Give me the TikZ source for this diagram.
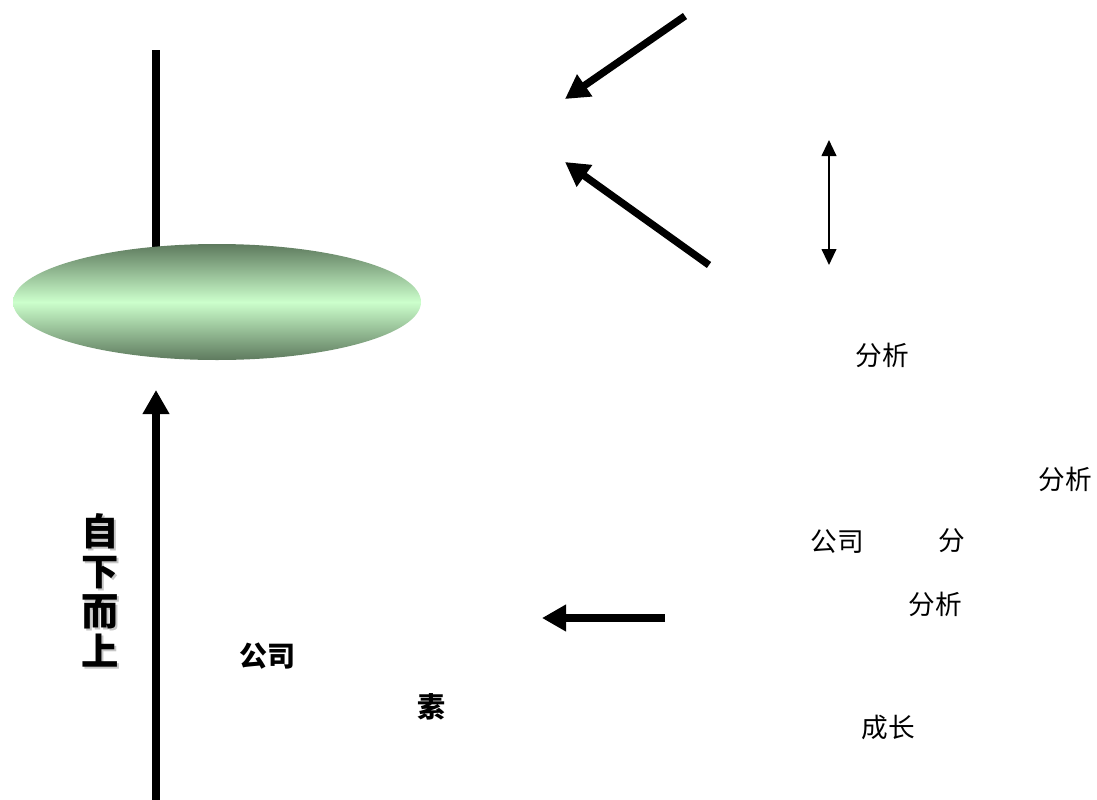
\documentclass[tikz,border=0pt]{standalone}
\usepackage{fontspec}
\newfontfamily\cjk{Noto Sans CJK SC}
\usetikzlibrary{arrows.meta,shapes.geometric}
\definecolor{gdark}{HTML}{5E7A5E}
\definecolor{glight}{HTML}{CCFFCC}
\tikzset{
  thickarrow/.style={line width=5.5pt,-{Triangle[length=18pt,width=19pt]}},
  thinarrow/.style={line width=1.5pt,{Triangle[length=12pt,width=11pt]}-{Triangle[length=12pt,width=11pt]}},
  lbl/.style={inner sep=0pt,font=\cjk\fontsize{20pt}{22pt}\selectfont},
  blbl/.style={inner sep=0pt,font=\cjk\bfseries\fontsize{21pt}{24pt}\selectfont},
  vlbl/.style={inner sep=0pt,align=center,font=\cjk\bfseries\fontsize{28pt}{30pt}\selectfont},
}
\begin{document}
\begin{tikzpicture}[x=0.75pt,y=-0.75pt]
\useasboundingbox (0,0) rectangle (1097,800);
% top vertical line
\coordinate (vtop) at (156,50);
\coordinate (vbot) at (156,800);
\coordinate (vjoin) at (156,250);
\draw[line width=5.5pt] (vtop) -- (vjoin);
\node[ellipse,minimum width=306pt,minimum height=87pt,inner sep=0pt,
  top color=gdark,bottom color=gdark,middle color=glight] (ell) at (217,302) {};
\coordinate (btip) at (156,390);
\draw[thickarrow] (vbot) -- (btip);
% vertical text with shadow
\node[vlbl,text=gray!45] (zxesh) at (102,592) {自\\下\\而\\上};
\node[vlbl] (zxes) at (100,590) {自\\下\\而\\上};
\node[blbl] (gs) at (267,656) {公司};
\node[blbl] (su) at (431,707) {素};
% diagonal arrows
\coordinate (a1s) at (685,16);
\coordinate (a1t) at (565,99);
\draw[thickarrow] (a1s) -- (a1t);
\coordinate (a2s) at (709,265);
\coordinate (a2t) at (565,162);
\draw[thickarrow] (a2s) -- (a2t);
% double arrow
\coordinate (d1) at (829,140);
\coordinate (d2) at (829,265);
\draw[thinarrow] (d1) -- (d2);
% left arrow
\coordinate (l1) at (665,618);
\coordinate (l2) at (542,618);
\draw[thickarrow] (l1) -- (l2);
% right texts
\node[lbl] (t1) at (882,355) {分析};
\node[lbl] (t2) at (1065,479) {分析};
\node[lbl] (t3) at (837,542) {公司};
\node[lbl] (t4) at (952,541) {分};
\node[lbl] (t5) at (935,604) {分析};
\node[lbl] (t6) at (888,727) {成长};
\end{tikzpicture}
\end{document}
